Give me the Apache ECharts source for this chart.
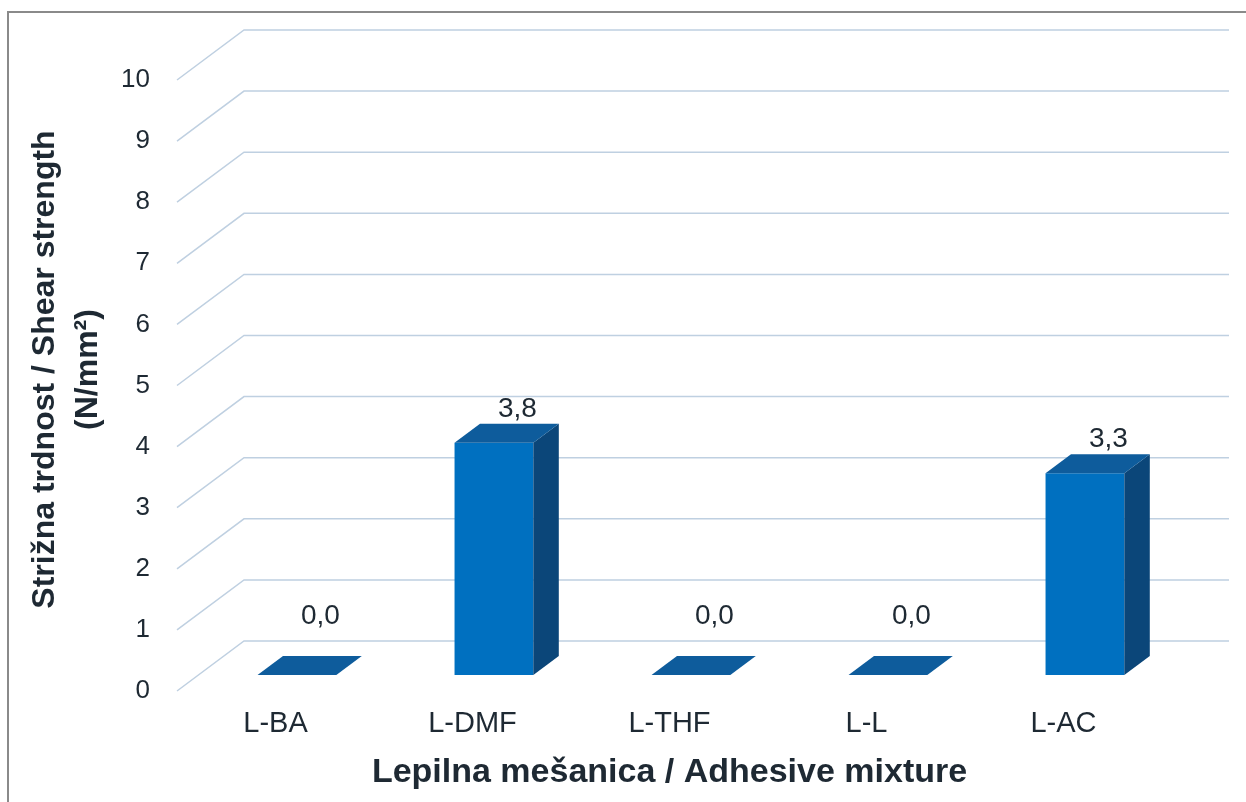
<!DOCTYPE html>
<html>
<head>
<meta charset="utf-8">
<script src="https://cdn.jsdelivr.net/npm/echarts@6/dist/echarts.min.js"></script>
<style>
  html, body { margin: 0; padding: 0; background: #ffffff; }
  #chart { width: 1246px; height: 802px; }
</style>
</head>
<body>
<div id="chart"></div>
<script>
// Shear strength of the adhesive mixtures
const categories = ['L-BA', 'L-DMF', 'L-THF', 'L-L', 'L-AC'];
const shearStrength = [0.0, 3.8, 0.0, 0.0, 3.3];
const yTicks = [0, 1, 2, 3, 4, 5, 6, 7, 8, 9, 10];

const yTitle = 'Strižna trdnost / Shear strength\n(N/mm²)';
const xTitle = 'Lepilna mešanica / Adhesive mixture';

// pseudo-3D depth of the plot box (back wall offset from the front plane)
const DEPTH_X = 67;
const DEPTH_Y = 50;
// bar placement inside the depth (fractions of the depth)
const BAR_FRONT = 0.32;
const BAR_BACK = 0.70;
const BAR_WIDTH = 0.40;   // fraction of category band

const TEXT = '#1E2933';
const GRID_LINE = '#BFD0E1';
const FONT = '"Liberation Sans", Arial, Helvetica, sans-serif';

const fmt = v => v.toFixed(1).replace('.', ',');

const chart = echarts.init(document.getElementById('chart'), null, { renderer: 'canvas' });

const option = {
  backgroundColor: '#ffffff',
  animation: false,
  textStyle: { fontFamily: FONT },
  graphic: [{
    type: 'rect',
    shape: { x: 8, y: 12, width: 1400, height: 1000 },
    style: { fill: 'none', stroke: '#8A8A8A', lineWidth: 2 },
    silent: true
  }],
  grid: { left: 177, right: 84, top: 80, bottom: 111 },
  xAxis: {
    type: 'category',
    data: categories,
    axisLine: { show: false },
    axisTick: { show: false },
    axisLabel: { color: TEXT, fontSize: 29, margin: 18, fontFamily: FONT },
    name: xTitle,
    nameLocation: 'middle',
    nameGap: 65,
    nameTextStyle: { color: TEXT, fontSize: 34, fontWeight: 'bold', fontFamily: FONT }
  },
  yAxis: {
    type: 'value',
    min: 0,
    max: 10,
    interval: 1,
    axisLine: { show: false },
    axisTick: { show: false },
    splitLine: { show: false },
    axisLabel: { color: TEXT, fontSize: 26, margin: 27, fontFamily: FONT },
    name: yTitle,
    nameLocation: 'middle',
    nameGap: 67,
    nameTextStyle: {
      color: TEXT, fontSize: 32, fontWeight: 'bold', lineHeight: 43, fontFamily: FONT,
      padding: [0, 0, 0, 32]
    }
  },
  series: [
    {
      // floor-to-back-wall gridlines: diagonal on the side wall, then horizontal on the back wall
      type: 'custom',
      silent: true,
      z: 1,
      data: yTicks,
      renderItem: function (params, api) {
        const cs = params.coordSys;
        const v = api.value(0);
        const y = api.coord([0, v])[1];
        const x0 = cs.x;
        const x1 = cs.x + cs.width;
        return {
          type: 'polyline',
          shape: {
            points: [
              [x0, y],
              [x0 + DEPTH_X, y - DEPTH_Y],
              [x1 + DEPTH_X, y - DEPTH_Y]
            ]
          },
          style: { stroke: GRID_LINE, lineWidth: 1.5, fill: 'none' }
        };
      }
    },
    {
      // 3D bars with value labels
      type: 'custom',
      z: 2,
      data: shearStrength.map((v, i) => [i, v]),
      renderItem: function (params, api) {
        const i = api.value(0);
        const v = api.value(1);
        const base = api.coord([i, 0]);
        const top = api.coord([i, v]);
        const band = api.size([1, 0])[0];
        const half = band * BAR_WIDTH / 2;
        const fx = DEPTH_X * BAR_FRONT, fy = DEPTH_Y * BAR_FRONT;
        const bx = DEPTH_X * BAR_BACK, by = DEPTH_Y * BAR_BACK;
        const dx = bx - fx, dy = by - fy;
        const xL = base[0] + fx - half;
        const xR = base[0] + fx + half;
        const yB = base[1] - fy;
        const yT = top[1] - fy;
        const children = [];
        if (v > 0) {
          children.push({
            type: 'rect',
            shape: { x: xL, y: yT, width: xR - xL, height: yB - yT },
            style: { fill: '#0070C0' }
          });
          children.push({
            type: 'polygon',
            shape: { points: [[xR, yT], [xR + dx, yT - dy], [xR + dx, yB - dy], [xR, yB]] },
            style: { fill: '#0B4679' }
          });
        }
        children.push({
          type: 'polygon',
          shape: { points: [[xL, yT], [xR, yT], [xR + dx, yT - dy], [xL + dx, yT - dy]] },
          style: { fill: '#0E5C9C' }
        });
        children.push({
          type: 'text',
          style: {
            text: fmt(v),
            x: base[0] + bx - 2,
            y: yT - dy - (v > 0 ? 1 : 26),
            align: 'center',
            verticalAlign: 'bottom',
            fill: TEXT,
            font: '28px ' + FONT
          }
        });
        return { type: 'group', children: children };
      }
    }
  ]
};

chart.setOption(option);
</script>
</body>
</html>
